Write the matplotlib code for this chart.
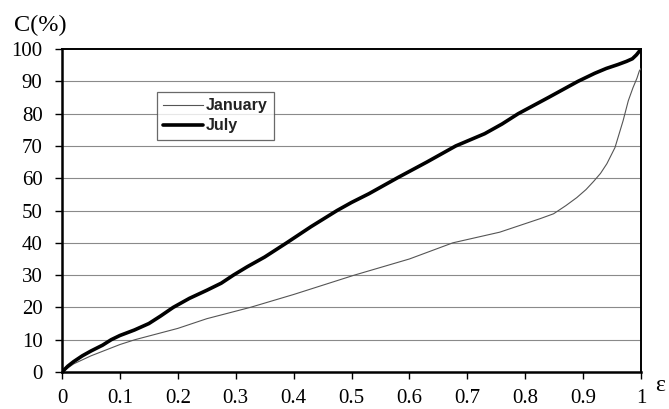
import matplotlib.pyplot as plt

# values
eps_jan = [0.0, 0.02, 0.05, 0.1, 0.126, 0.2, 0.25, 0.325, 0.4, 0.505, 0.6, 0.675,
           0.756, 0.826, 0.849, 0.87, 0.889, 0.905, 0.918, 0.93, 0.941, 0.955,
           0.969, 0.978, 0.986, 0.993, 0.997, 1.0]
c_jan = [0.0, 2.5, 5.0, 8.5, 10.0, 13.5, 16.5, 20.0, 24.0, 30.0, 35.0, 40.0,
         43.3, 47.5, 49.0, 51.5, 54.0, 56.5, 59.0, 61.5, 64.5, 69.5,
         77.8, 84.0, 88.0, 91.0, 93.2, 94.0]

eps_jul = [0.0, 0.01, 0.02, 0.035, 0.05, 0.07, 0.085, 0.1, 0.125, 0.15, 0.17,
           0.192, 0.22, 0.25, 0.275, 0.296, 0.32, 0.35, 0.388, 0.43, 0.475,
           0.5, 0.53, 0.58, 0.63, 0.68, 0.73, 0.76, 0.788, 0.84, 0.891, 0.92,
           0.94, 0.96, 0.975, 0.985, 0.992, 1.0]
c_jul = [0.0, 1.8, 3.2, 5.0, 6.5, 8.3, 10.0, 11.3, 13.0, 15.0, 17.3,
         20.0, 22.8, 25.3, 27.5, 30.0, 32.6, 35.6, 40.0, 45.0, 50.0,
         52.5, 55.2, 60.2, 65.0, 70.0, 73.8, 76.8, 80.0, 85.0, 90.0, 92.5,
         94.0, 95.2, 96.2, 97.0, 98.2, 100.0]

xticks = [0, 0.1, 0.2, 0.3, 0.4, 0.5, 0.6, 0.7, 0.8, 0.9, 1]
xlabels = ['0', '0.1', '0.2', '0.3', '0.4', '0.5', '0.6', '0.7', '0.8', '0.9', '1']
yticks = list(range(0, 101, 10))

plt.rcParams['font.family'] = ['Liberation Serif', 'DejaVu Serif']

fig = plt.figure(figsize=(6.69, 4.09), dpi=100)
ax = fig.add_axes([0.0927, 0.0905, 0.8655, 0.7895])

for y in yticks[1:-1]:
    ax.axhline(y, color='#8a8a8a', lw=0.8, zorder=1)

ax.plot(eps_jan, c_jan, color='#555555', lw=0.8, label='January', zorder=3,
        solid_joinstyle='round')
ax.plot(eps_jul, c_jul, color='black', lw=2.6, label='July', zorder=4,
        solid_joinstyle='round', solid_capstyle='round')

ax.set_xlim(0, 1)
ax.set_ylim(0, 100)
ax.set_xticks(xticks)
ax.set_xticklabels(xlabels)
ax.set_yticks(yticks)
ax.tick_params(axis='both', direction='out', length=5, width=1, labelsize=15,
               colors='black')
ax.tick_params(axis='x', pad=7)
ax.tick_params(axis='y', pad=9)

for side in ['left', 'bottom']:
    ax.spines[side].set_linewidth(1.8)
for side in ['top', 'right']:
    ax.spines[side].set_linewidth(1.4)

leg = ax.legend(loc='upper left', bbox_to_anchor=(0.164, 0.867), frameon=True,
                fancybox=False, edgecolor='#444444', handlelength=2.5,
                borderpad=0.4, labelspacing=0.3, handletextpad=0.15,
                borderaxespad=0,
                prop={'family': 'Liberation Sans', 'weight': 'bold', 'size': 11.5})
leg.get_frame().set_linewidth(0.9)
for t in leg.get_texts():
    t.set_color('#222222')

fig.text(0.021, 0.912, 'C(%)', fontsize=17.5, ha='left', va='bottom')
fig.text(0.986, 0.058, 'ε', fontsize=17, ha='center', va='center')

fig.savefig('out.png', dpi=100)
